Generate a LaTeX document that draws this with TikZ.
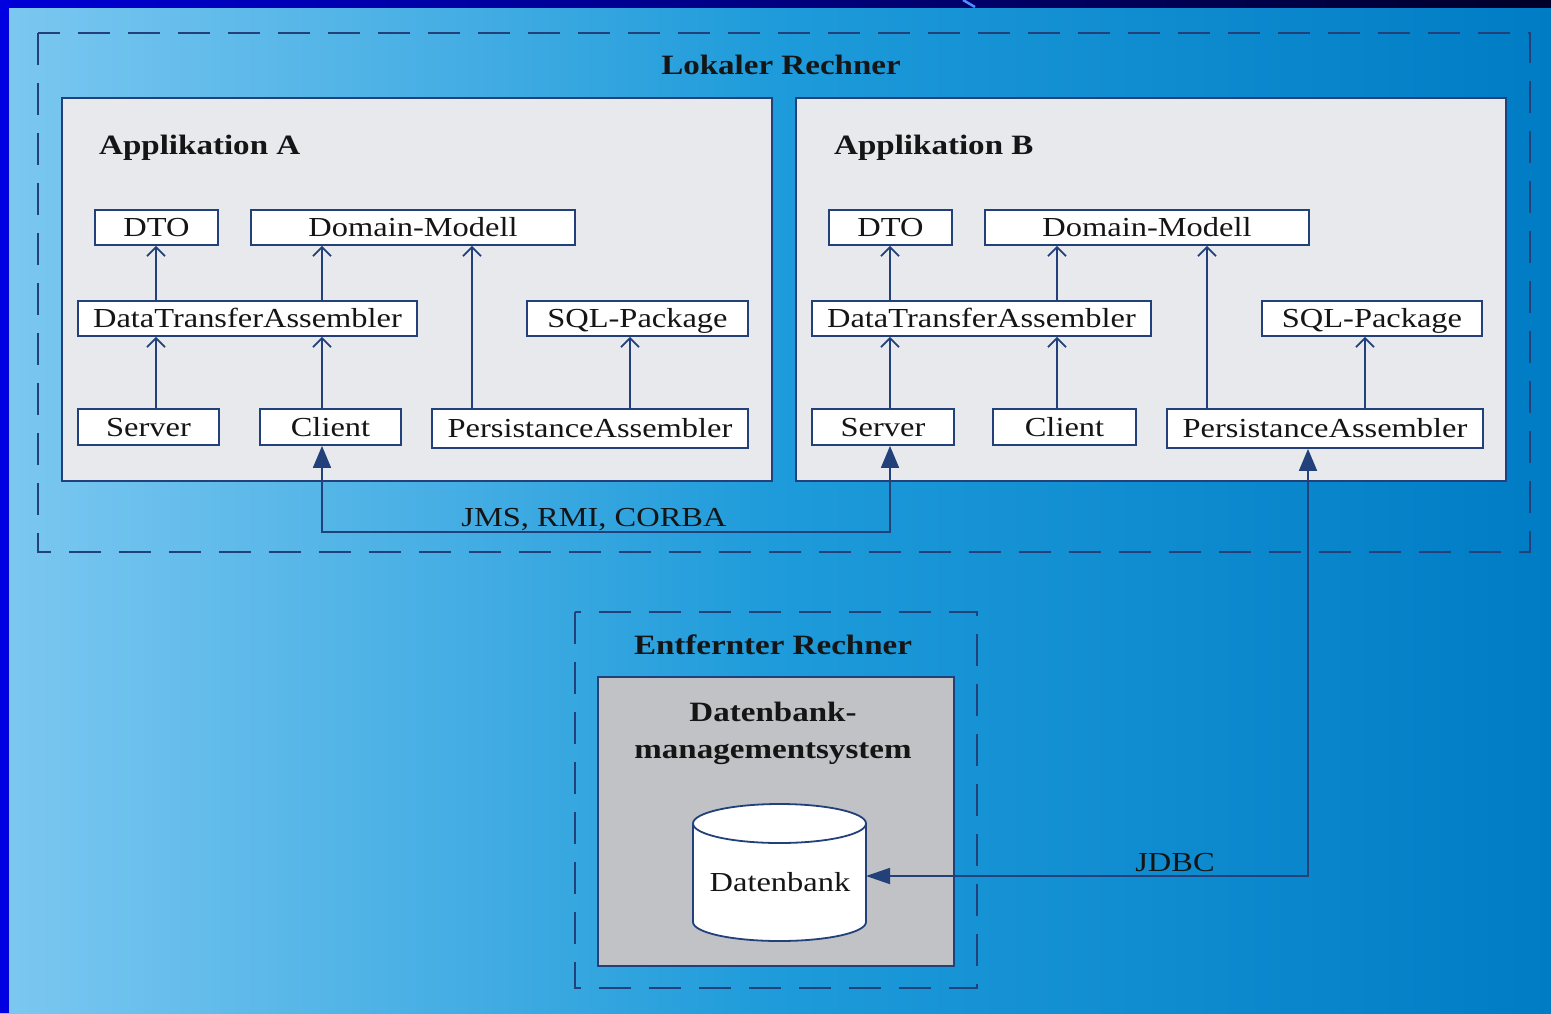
\documentclass[tikz,border=0pt]{standalone}
\usepackage{fontspec}
\setmainfont{Liberation Serif}[FakeStretch=1.18]
\usetikzlibrary{arrows.meta,calc}
\definecolor{navy}{HTML}{22407A}
\definecolor{ink}{HTML}{151515}
\definecolor{panel}{HTML}{E8E9ED}
\definecolor{dbms}{HTML}{C1C2C6}
\definecolor{bgleft}{HTML}{7CC8F1}
\definecolor{bgmid}{HTML}{1E9BDA}
\definecolor{bgright}{HTML}{007CC5}
\begin{document}
\begin{tikzpicture}[x=1pt,y=-1pt,
  txt/.style={font=\fontsize{27.5}{33}\selectfont, text=ink, inner sep=0pt},
  ttl/.style={txt, font=\fontsize{28}{33}\selectfont\bfseries},
  cls/.style={txt, draw=navy, line width=1.8pt, fill=white, text height=18.3pt, text depth=0pt, minimum height=35pt},
  app/.style={draw=navy, line width=1.8pt, fill=panel},
  machine/.style={draw=navy, line width=2pt, dash pattern=on 32pt off 18pt},
  inh/.style={draw=navy, line width=1.8pt, -{Straight Barb[length=9pt,width=18pt,line width=1.8pt]}},
  link/.style={draw=navy, line width=1.8pt}]
\useasboundingbox (0,0) rectangle (1551,1013);

% background
\shade[left color=bgleft, right color=bgright, middle color=bgmid] (0,0) rectangle (1551,1013);
\shade[left color={rgb,255:red,0;green,0;blue,215}, right color={rgb,255:red,0;green,0;blue,40}] (0,0) rectangle (1551,7);
\fill[blue!88!black] (0,0) rectangle (9,1013);
\draw[line width=2.5pt, color={rgb,255:red,80;green,140;blue,255}] (963,0) -- (975,7);

% machines
\draw[machine] (38,33) rectangle (1530,552);
\node[ttl, anchor=base] (lokal) at (781,74) {Lokaler Rechner};
\draw[machine] (575,612) rectangle (977,988);
\node[ttl, anchor=base] (remote) at (773,654) {Entfernter Rechner};

% applications
\path[app] (62,98) rectangle (772,481);
\path[app] (796,98) rectangle (1506,481);
\node[ttl, anchor=base west] (appA) at (99,154) {Applikation A};
\node[ttl, anchor=base west] (appB) at (834,154) {Applikation B};

% classes of application A
\node[cls, minimum width=123pt] (dtoA) at (156.5,227.5) {DTO};
\node[cls, minimum width=324pt] (domA) at (413,227.5) {Domain-Modell};
\node[cls, minimum width=339pt] (dtaA) at (247.5,318.5) {DataTransferAssembler};
\node[cls, minimum width=221pt] (sqlA) at (637.5,318.5) {SQL-Package};
\node[cls, minimum width=141pt, minimum height=36pt] (srvA) at (148.5,427) {Server};
\node[cls, minimum width=141pt, minimum height=36pt] (cliA) at (330.5,427) {Client};
\node[cls, minimum width=316pt, minimum height=39pt] (perA) at (590,428.5) {PersistanceAssembler};

% classes of application B
\node[cls, minimum width=123pt] (dtoB) at (890.5,227.5) {DTO};
\node[cls, minimum width=324pt] (domB) at (1147,227.5) {Domain-Modell};
\node[cls, minimum width=339pt] (dtaB) at (981.5,318.5) {DataTransferAssembler};
\node[cls, minimum width=220pt] (sqlB) at (1372,318.5) {SQL-Package};
\node[cls, minimum width=142pt, minimum height=36pt] (srvB) at (883,427) {Server};
\node[cls, minimum width=143pt, minimum height=36pt] (cliB) at (1064.5,427) {Client};
\node[cls, minimum width=316pt, minimum height=39pt] (perB) at (1325,428.5) {PersistanceAssembler};

% dependency columns
\coordinate (a1) at (156,0);  \coordinate (a2) at (322,0);
\coordinate (a3) at (472,0);  \coordinate (a4) at (630,0);
\coordinate (b1) at (890,0);  \coordinate (b2) at (1057,0);
\coordinate (b3) at (1207,0); \coordinate (b4) at (1365,0);
\coordinate (b5) at (1308,0);

\draw[inh] (dtaA.north -| a1) -- (dtoA.south -| a1);
\draw[inh] (dtaA.north -| a2) -- (domA.south -| a2);
\draw[inh] (srvA.north -| a1) -- (dtaA.south -| a1);
\draw[inh] (cliA.north -| a2) -- (dtaA.south -| a2);
\draw[inh] (perA.north -| a3) -- (domA.south -| a3);
\draw[inh] (perA.north -| a4) -- (sqlA.south -| a4);

\draw[inh] (dtaB.north -| b1) -- (dtoB.south -| b1);
\draw[inh] (dtaB.north -| b2) -- (domB.south -| b2);
\draw[inh] (srvB.north -| b1) -- (dtaB.south -| b1);
\draw[inh] (cliB.north -| b2) -- (dtaB.south -| b2);
\draw[inh] (perB.north -| b3) -- (domB.south -| b3);
\draw[inh] (perB.north -| b4) -- (sqlB.south -| b4);

% database server
\path[app, fill=dbms] (598,677) rectangle (954,966);
\node[ttl, anchor=base] (dbmsA) at (773,721) {Datenbank-};
\node[ttl, anchor=base] (dbmsB) at (773,758) {managementsystem};
\filldraw[navy, line width=1.8pt, fill=white]
  (693,823.5) -- (693,922) arc[start angle=180, end angle=360, x radius=86.5pt, y radius=19pt]
  -- (866,823.5) arc[start angle=0, end angle=180, x radius=86.5pt, y radius=19.5pt];
\draw[navy, line width=1.8pt] (693,823.5) arc[start angle=180, end angle=360, x radius=86.5pt, y radius=19.5pt];
\node[txt, text height=18.3pt, text depth=0pt] (db) at (780,882) {Datenbank};
\coordinate (dbin) at (866,876);

% remote calls
\coordinate (jms) at (600,532);
\draw[link, {Triangle[length=22pt,width=18pt]}-{Triangle[length=22pt,width=18pt]}]
  (cliA.south -| a2) |- (jms) -| (srvB.south -| b1);
\node[txt, anchor=base] (jmslbl) at (594,526) {JMS, RMI, CORBA};

\draw[link, {Triangle[length=22pt,width=18pt]}-{Triangle[length=24pt,width=16pt]}]
  (perB.south -| b5) |- (dbin);
\node[txt, anchor=base] (jdbc) at (1175,871) {JDBC};
\end{tikzpicture}
\end{document}
